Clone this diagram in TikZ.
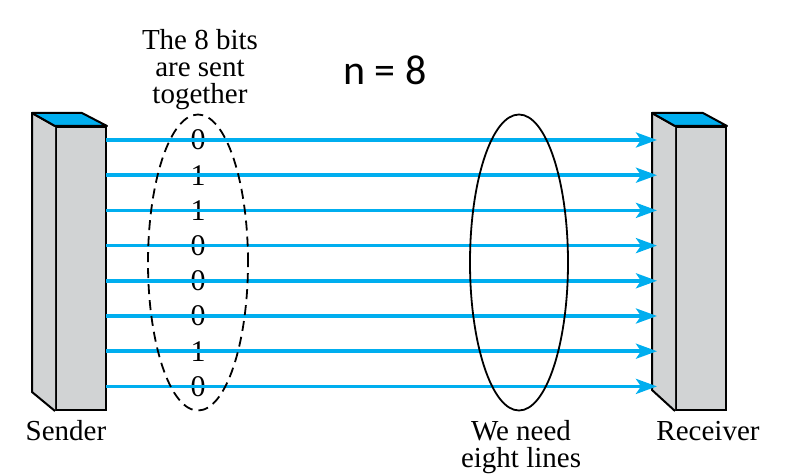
\documentclass[tikz,border=0pt]{standalone}
\usepackage{fontspec}
\setmainfont{Liberation Serif}
\newfontfamily\calib{Carlito}
\usetikzlibrary{shapes.geometric}
\usetikzlibrary{positioning}
\usetikzlibrary{arrows.meta}
\definecolor{wireblue}{HTML}{00AEEF}
\definecolor{boxgray}{HTML}{D1D3D4}
\tikzset{
    face/.style = {rectangle, line width=2pt, draw=black, fill=boxgray, minimum width=50pt, minimum height=283pt, inner sep=0pt},
    side/.style = {line width=2pt, draw=black, fill=boxgray, line join=round},
    lid/.style = {line width=2pt, draw=black, fill=wireblue, line join=round},
    wire/.style = {-{Stealth[length=21pt,width=15pt,inset=5pt]}, line width=3.5pt, wireblue},
    bit/.style = {font=\fontsize{30}{30}\selectfont, inner sep=0pt},
    txt/.style = {align=center, font=\fontsize{29}{27}\selectfont, inner sep=0pt},
    groupd/.style = {ellipse, draw=black, line width=1.8pt, dash pattern=on 10pt off 6pt, minimum width=100pt, minimum height=296pt, inner sep=0pt},
    groups/.style = {ellipse, draw=black, line width=1.8pt, minimum width=98pt, minimum height=296pt, inner sep=0pt}
}

\begin{document}
\begin{tikzpicture}[x=1pt,y=-1pt]
\useasboundingbox (0,0) rectangle (801,476);

\node[face] at (81,268.5) (sf) {};
\node[face] at (701,268.5) (rf) {};
%
\draw[side] (sf.north west) -- (32,113) -- (32,392) -- (sf.south west);
\draw[lid] (sf.north west) -- (32,113) -- (82,113) -- (sf.north east) -- cycle;
\draw[side] (rf.north west) -- (652,113) -- (652,390) -- (rf.south west);
\draw[lid] (rf.north west) -- (652,113) -- (703,113) -- (rf.north east) -- cycle;

\foreach \b [count=\i from 0] in {0,1,1,0,0,0,1,0} {
  \pgfmathsetmacro\yy{140+35.2*\i}
  \coordinate (s\i) at (106,\yy);
  \coordinate (r\i) at (657,\yy);
  \node[bit] at (198,\yy) (b\i) {\b};
  \draw[wire] (s\i) -- (r\i);
}

\node[groupd] at (198,262.5) (grp) {};
\node[groups] at (519,262.5) (lines) {};

\node[txt, anchor=north] at (200,29) (title) {The 8 bits\\are sent\\together};
\node[inner sep=0pt, font=\calib\fontsize{42}{42}\selectfont] at (385,70.5) (n) {n = 8};
\node[txt, anchor=base] at (66,440) (snd) {Sender};
\node[txt, anchor=base] at (708,440) (rcv) {Receiver};
\node[txt, anchor=north] at (521,420) (need) {We need\\eight lines};

\end{tikzpicture}
\end{document}
